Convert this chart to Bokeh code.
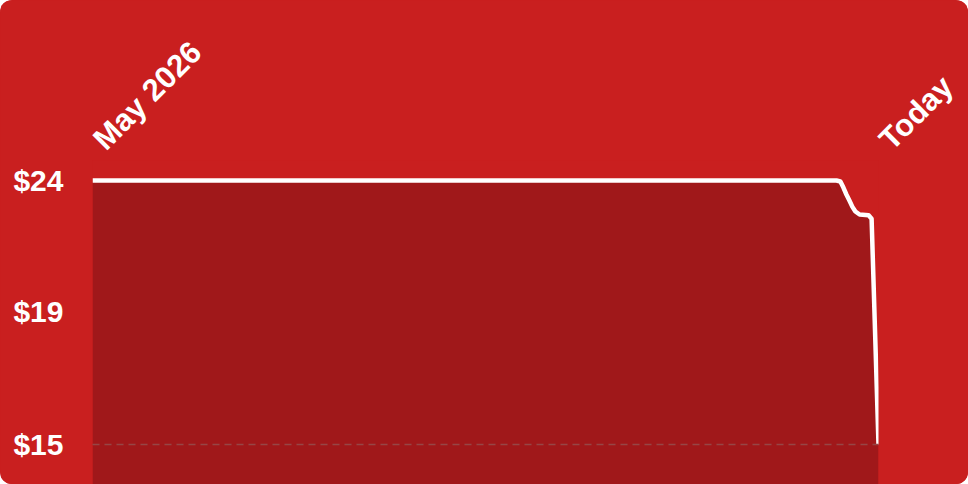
import math
from bokeh.plotting import figure
from bokeh.models import (Range1d, FixedTicker, PrintfTickFormatter,
                          InlineStyleSheet, GlobalInlineStyleSheet)
from bokeh.embed import file_html
from bokeh.resources import INLINE

# ---- data (x: days since start of May 2026, price in $) ----
days = [0, 248, 249.3, 250.3, 251.3, 252.3, 253.3, 254.3, 255.7, 258.7, 259.7, 262]
price = [24.0, 24.0, 23.96, 23.70, 23.41, 23.16, 22.90, 22.71, 22.59, 22.56, 22.42, 15.0]

x_tick_values = [0, 262]
x_tick_labels = ["May 2026", "Today"]
y_tick_values = [15, 19, 24]
grid_values = [15]

BG = "#C91F1F"
FILL = "#A0181A"
FONT = "Liberation Sans"

p = figure(width=968, height=484, output_backend="svg", toolbar_location=None,
           y_axis_type="log", x_axis_location="above",
           x_range=Range1d(days[0], days[-1]), y_range=Range1d(13.969, 24.87),
           min_border_left=92, min_border_right=90, min_border_top=160,
           min_border_bottom=0)
p.background_fill_color = BG
p.border_fill_color = BG
p.outline_line_color = None
p.stylesheets = [
    GlobalInlineStyleSheet(css="html, body { margin: 0 !important; padding: 0; background: #ffffff; overflow: hidden; }"),
    InlineStyleSheet(css=":host { border-radius: 12px; overflow: hidden; background: %s; }" % BG),
]

# area + line
p.varea(x=days, y1=[p.y_range.start] * len(days), y2=price, fill_color=FILL, fill_alpha=1.0)
p.line(x=days, y=price, line_color="white", line_width=4.5, line_join="round")

# grid: only the $15 line, dashed, drawn over the area
p.xgrid.visible = False
p.ygrid.ticker = FixedTicker(ticks=grid_values)
p.ygrid.grid_line_color = "#964646"
p.ygrid.grid_line_width = 1.5
p.ygrid.grid_line_dash = "7 5"
p.ygrid.level = "annotation"

# y axis
ya = p.yaxis[0]
ya.ticker = FixedTicker(ticks=y_tick_values)
ya.formatter = PrintfTickFormatter(format="$%d")
ya.axis_line_color = None
ya.major_tick_line_color = None
ya.minor_tick_line_color = None
ya.major_tick_out = 0
ya.minor_tick_out = 0
ya.major_label_standoff = 29
ya.major_label_text_color = "white"
ya.major_label_text_font = FONT
ya.major_label_text_font_style = "bold"
ya.major_label_text_font_size = "30px"

# x axis (above)
xa = p.xaxis[0]
xa.ticker = FixedTicker(ticks=x_tick_values)
xa.major_label_overrides = {v: "\u00a0" + t for v, t in zip(x_tick_values, x_tick_labels)}
xa.major_label_orientation = math.pi / 4
xa.axis_line_color = None
xa.major_tick_line_color = None
xa.minor_tick_line_color = None
xa.major_tick_out = 0
xa.minor_tick_out = 0
xa.major_label_standoff = 10
xa.major_label_text_color = "white"
xa.major_label_text_font = FONT
xa.major_label_text_font_style = "bold"
xa.major_label_text_font_size = "31px"

open("out.html", "w").write(file_html(p, INLINE))
